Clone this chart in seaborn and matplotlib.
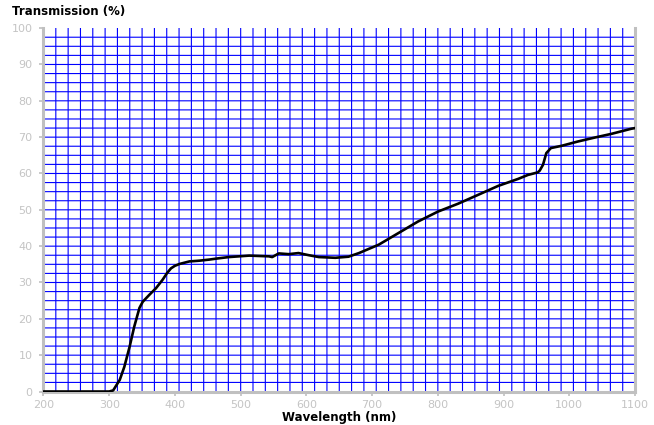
import numpy as np
import pandas as pd
import seaborn as sns
import matplotlib.pyplot as plt

# Transmission curve
wavelength = [200, 250, 300, 306, 316, 323, 331, 338, 346, 351, 361, 371, 381, 388, 394, 400, 407,
              422, 437, 452, 464, 482, 513, 543, 548, 558, 573, 588, 604, 619, 644, 664,
              680, 710, 740, 770, 800, 831, 861, 892, 922, 937, 952, 955, 960, 965, 972,
              988, 1013, 1039, 1064, 1094, 1100]
transmission = [0, 0, 0, 0.3, 3.2, 6.8, 12.3, 17.8, 23.0, 24.7, 26.6, 28.4, 30.7, 32.6, 33.9, 34.6, 35.1,
                35.8, 36.0, 36.3, 36.6, 37.0, 37.4, 37.2, 37.0, 38.0, 37.8, 38.1, 37.5, 37.0, 36.8, 37.1,
                38.1, 40.4, 43.6, 46.8, 49.5, 51.7, 54.1, 56.6, 58.5, 59.6, 60.3, 60.8, 62.4, 65.6, 67.0,
                67.6, 68.8, 69.9, 70.9, 72.3, 72.5]

df = pd.DataFrame({"Wavelength": wavelength, "Transmission": transmission})

sns.set_style("white")
fig = plt.figure(figsize=(6.54, 4.25), dpi=100)
ax = fig.add_axes([0.0665, 0.0788, 0.9045, 0.855])

# blue grid, minor every 18.75 nm and 2.5 %
for x in np.linspace(200, 1100, 49)[1:-1]:
    ax.axvline(x, color="#0000ff", lw=0.8, zorder=1, snap=False)
for y in np.arange(2.5, 100, 2.5):
    ax.axhline(y, color="#0000ff", lw=0.8, zorder=1, snap=False)

sns.lineplot(data=df, x="Wavelength", y="Transmission", color="black", lw=1.9, ax=ax, zorder=3)

ax.set_xlim(200, 1100)
ax.set_ylim(0, 100)
ax.set_xticks(range(200, 1101, 100))
ax.set_yticks(range(0, 101, 10))

grey = "#c0c0c0"
for side in ["left", "bottom", "right"]:
    ax.spines[side].set_color(grey)
    ax.spines[side].set_linewidth(2.2)
ax.spines["top"].set_visible(False)
ax.tick_params(axis="both", colors=grey, labelcolor="#c4c4c4", labelsize=8,
               length=3, width=1.2, direction="out")
ax.tick_params(axis="y", pad=5, left=True)
ax.tick_params(axis="x", pad=3, bottom=True)

ax.set_xlabel("")
ax.set_ylabel("")
fig.text(339 / 654, 1 - 418 / 425, "Wavelength (nm)", fontsize=8.5, fontweight="bold",
         color="black", ha="center", va="center")
fig.text(12 / 654, 1 - 12 / 425, "Transmission (%)", fontsize=8.5, fontweight="bold",
         color="black", ha="left", va="center")

plt.savefig("out.png", dpi=100)
